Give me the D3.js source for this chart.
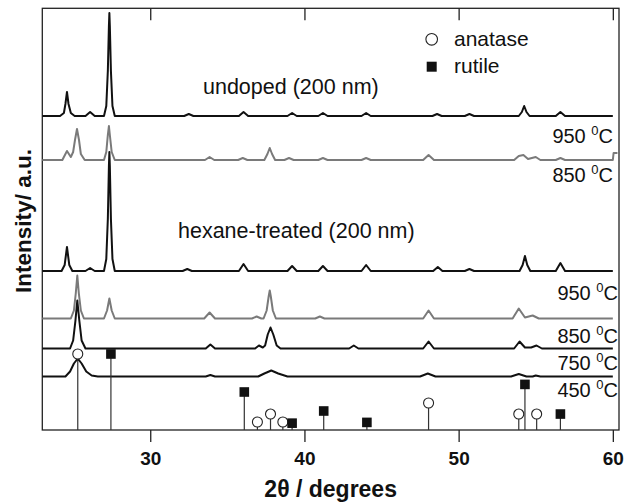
<!DOCTYPE html>
<html><head><meta charset="utf-8">
<script src="https://cdn.jsdelivr.net/npm/d3@7"></script>
<style>body{margin:0;background:#fff}svg{display:block}</style>
</head><body>
<svg id="chart" width="624" height="503"></svg>
<script>
// ---------- DATA ----------
// x: 2-theta (degrees); intensities in arbitrary units, relative to each pattern's own baseline
const seriesNames = ["undoped 950", "undoped 850", "hexane 950", "hexane 850", "hexane 750", "hexane 450"];
// vertical stacking offsets of each pattern (a.u.)
const seriesOffsets = [314, 270, 159, 111.5, 81.5, 53.5];

const undoped950 = [[23,0],[24.15,0],[24.4,3],[24.5,12],[24.6,24],[24.7,12],[24.85,3],[25.1,0],[25.8,0],[26.1,4],[26.4,0],[27.0,0],[27.15,10],[27.25,45],[27.32,90],[27.35,103],[27.38,90],[27.45,45],[27.55,10],[27.7,0],[32.2,0],[32.5,2],[32.8,0],[35.75,0],[36.05,4],[36.35,0],[38.9,0],[39.2,3],[39.5,0],[40.9,0],[41.2,3],[41.5,0],[43.7,0],[44.0,3],[44.3,0],[48.3,0],[48.6,2],[48.9,0],[50.4,0],[50.7,2],[51.0,0],[53.9,0],[54.1,4],[54.25,10],[54.4,4],[54.6,0],[56.3,0],[56.6,4],[56.9,0],[60,0]];
const undoped850 = [[23,0],[24.3,0],[24.6,9],[24.85,3],[25.0,8],[25.12,20],[25.25,31],[25.38,20],[25.5,6],[25.75,0],[27.0,0],[27.15,8],[27.25,25],[27.32,34],[27.38,25],[27.5,8],[27.7,0],[33.55,0],[33.85,3],[34.15,0],[35.7,0],[36.0,2],[36.3,0],[37.4,0],[37.6,6],[37.75,12],[37.9,6],[38.1,0],[38.7,0],[39.0,2],[39.3,0],[40.9,0],[41.2,2],[41.5,0],[43.7,0],[44.0,2],[44.3,0],[47.7,0],[48.05,5],[48.4,0],[53.6,0],[53.9,4],[54.2,5],[54.5,1],[55.0,3],[55.3,0],[56.3,0],[56.6,2],[56.9,0],[60.0,0],[60.05,7],[60.3,7]];
const hexane950 = [[23,0],[24.25,0],[24.45,6],[24.6,24],[24.75,6],[24.95,0],[25.8,0],[26.1,3],[26.4,0],[27.0,0],[27.15,12],[27.25,52],[27.32,105],[27.35,119],[27.38,105],[27.45,52],[27.55,12],[27.7,0],[32.1,0],[32.4,2],[32.7,0],[35.75,0],[36.05,7],[36.35,0],[38.9,0],[39.2,5],[39.5,0],[40.9,0],[41.2,5],[41.5,0],[43.7,0],[44.0,6],[44.3,0],[48.35,0],[48.65,4],[48.95,0],[50.4,0],[50.7,2],[51.0,0],[53.95,0],[54.15,6],[54.3,15],[54.45,6],[54.65,0],[56.3,0],[56.6,8],[56.9,0],[60,0]];
const hexane850 = [[23,0],[24.85,0],[25.05,8],[25.17,25],[25.27,43],[25.37,25],[25.5,8],[25.7,0],[27.0,0],[27.2,8],[27.35,20],[27.5,8],[27.7,0],[33.5,0],[33.85,6],[34.2,0],[36.6,0],[36.9,2],[37.2,0],[37.35,0],[37.55,8],[37.68,22],[37.75,28],[37.82,22],[37.95,8],[38.15,0],[40.7,0],[41.0,2],[41.3,0],[47.7,0],[48.05,8],[48.4,0],[53.5,0],[53.9,10],[54.3,1],[54.8,3],[55.2,0],[60,0]];
const hexane750 = [[23,0],[24.8,0],[25.0,8],[25.15,28],[25.27,48],[25.4,28],[25.55,8],[25.8,0],[33.6,0],[33.9,4],[34.2,0],[36.8,0],[37.05,3],[37.3,1],[37.45,3],[37.62,14],[37.8,21],[37.98,14],[38.2,3],[38.45,0],[42.9,0],[43.2,3],[43.5,0],[47.7,0],[48.05,7],[48.4,0],[53.6,0],[53.95,7],[54.3,1],[54.7,1],[55.05,3],[55.4,0],[60,0]];
const hexane450 = [[23,0],[24.5,0],[24.8,5],[25.05,13],[25.3,18],[25.55,13],[25.85,5],[26.2,1],[26.6,0],[33.6,0],[33.9,1.5],[34.2,0],[37.0,0],[37.4,3],[37.85,6],[38.3,3],[38.9,0],[47.5,0],[48.0,3],[48.5,0],[53.4,0],[53.9,2.5],[54.4,0],[54.8,0],[55.0,1],[55.3,0],[60,0]];
const seriesData = [undoped950, undoped850, hexane950, hexane850, hexane750, hexane450];

// reference patterns: [2theta, relative intensity %]
const anataseRefs = [[25.3,100],[36.95,10.5],[37.8,21],[38.6,10.5],[48.05,35.5],[53.9,21],[55.06,21]];
const rutileRefs  = [[27.45,100],[36.1,50],[39.2,9],[41.25,25],[44.05,10],[54.3,60],[56.6,21]];

const xMajorTicks = [30, 40, 50, 60];
const sampleLabels = ["undoped (200 nm)", "hexane-treated (200 nm)"];
const tempLabels = ["950", "850", "950", "850", "750", "450"];
const legendLabels = ["anatase", "rutile"];
const xTitle = "2\u03B8 / degrees";
const yTitle = "Intensity/ a.u.";

// ---------- STYLE / LAYOUT ----------
const FONT = "'Liberation Sans', Arial, Helvetica, sans-serif";
const seriesColors = ["#111", "#7a7a7a", "#111", "#7a7a7a", "#111", "#111"];
const frame = {left: 42.3, right: 619, top: 8.3, bottom: 430};

const svg = d3.select("#chart");
const x = d3.scaleLinear().domain([23, 60.4]).range([frame.left, frame.right]);
const y = d3.scaleLinear().domain([0, 421.7]).range([frame.bottom, frame.top]);
const yRef = d3.scaleLinear().domain([0, 100]).range([frame.bottom, 354]);

const minorTicks = d3.range(0, 23).map(i => 23 + 1/3 + i * 10 / 6);

// frame
svg.append("rect").attr("x", frame.left).attr("y", frame.top)
  .attr("width", frame.right - frame.left).attr("height", frame.bottom - frame.top)
  .attr("fill", "none").attr("stroke", "#222").attr("stroke-width", 1.3);

// bottom axis (outward ticks)
const gB = svg.append("g").attr("transform", `translate(0,${frame.bottom})`);
gB.call(d3.axisBottom(x).tickValues(minorTicks).tickSize(7).tickFormat(""));
gB.call(d3.axisBottom(x).tickValues(xMajorTicks).tickSize(12).tickPadding(10).tickFormat(d3.format("d")));
gB.selectAll(".domain").remove();
gB.selectAll("line").attr("stroke", "#222").attr("stroke-width", 1.3);
gB.selectAll("text").attr("font-family", FONT).attr("font-size", 19).attr("font-weight", "bold").attr("fill", "#111");

// top axis (inward ticks)
const gT = svg.append("g").attr("transform", `translate(0,${frame.top})`);
gT.call(d3.axisBottom(x).tickValues(minorTicks).tickSize(7).tickFormat(""));
gT.call(d3.axisBottom(x).tickValues(xMajorTicks).tickSize(12).tickFormat(""));
gT.selectAll(".domain").remove();
gT.selectAll("line").attr("stroke", "#222").attr("stroke-width", 1.3);

// patterns
const line = d3.line().x(d => x(d[0])).y(d => y(d[1]));
seriesData.forEach((s, i) => {
  const off = seriesOffsets[i];
  svg.append("path")
    .datum(s.map(d => [d[0], d[1] + off]))
    .attr("d", line)
    .attr("fill", "none")
    .attr("stroke", seriesColors[i])
    .attr("stroke-width", 2)
    .attr("stroke-linejoin", "round");
});

// reference sticks
const gR = svg.append("g");
[...anataseRefs, ...rutileRefs].forEach(d => {
  gR.append("line").attr("x1", x(d[0])).attr("x2", x(d[0]))
    .attr("y1", yRef(0)).attr("y2", yRef(d[1]))
    .attr("stroke", "#333").attr("stroke-width", 1.2);
});
anataseRefs.forEach(d => {
  gR.append("circle").attr("cx", x(d[0])).attr("cy", yRef(d[1])).attr("r", 5)
    .attr("fill", "#fff").attr("stroke", "#222").attr("stroke-width", 1.1);
});
rutileRefs.forEach(d => {
  gR.append("rect").attr("x", x(d[0]) - 4.8).attr("y", yRef(d[1]) - 4.8)
    .attr("width", 9.6).attr("height", 9.6).attr("fill", "#111");
});

// legend
svg.append("circle").attr("cx", 431.7).attr("cy", 39.3).attr("r", 5.8)
  .attr("fill", "#fff").attr("stroke", "#222").attr("stroke-width", 1.1);
svg.append("rect").attr("x", 426.7).attr("y", 61.7).attr("width", 10).attr("height", 10).attr("fill", "#111");
svg.append("text").attr("x", 454).attr("y", 45.7).text(legendLabels[0])
  .attr("font-family", FONT).attr("font-size", 21).attr("fill", "#111");
svg.append("text").attr("x", 454).attr("y", 72.7).text(legendLabels[1])
  .attr("font-family", FONT).attr("font-size", 21).attr("fill", "#111");

// sample labels
svg.append("text").attr("x", 203).attr("y", 94).text(sampleLabels[0])
  .attr("font-family", FONT).attr("font-size", 21.5).attr("fill", "#111");
svg.append("text").attr("x", 178).attr("y", 238).text(sampleLabels[1])
  .attr("font-family", FONT).attr("font-size", 21.5).attr("fill", "#111");

// temperature labels
const tempPos = [[613, 143.3], [613, 181.7], [618, 300], [618, 342.7], [618, 370], [618, 396.7]];
tempLabels.forEach((t, i) => {
  const tx = svg.append("text").attr("x", tempPos[i][0]).attr("y", tempPos[i][1])
    .attr("text-anchor", "end").attr("font-family", FONT).attr("font-size", 20).attr("fill", "#111");
  tx.append("tspan").text(t + " ");
  tx.append("tspan").attr("font-size", 13).attr("dy", -8).text("0");
  tx.append("tspan").attr("dy", 8).text("C");
});

// axis titles
svg.append("text").attr("x", (frame.left + frame.right) / 2).attr("y", 497)
  .attr("text-anchor", "middle").attr("font-family", FONT).attr("font-size", 23)
  .attr("font-weight", "bold").attr("fill", "#111").text(xTitle);
svg.append("text").attr("transform", "translate(31,221) rotate(-90)")
  .attr("text-anchor", "middle").attr("font-family", FONT).attr("font-size", 22.5)
  .attr("font-weight", "bold").attr("fill", "#111").text(yTitle);
</script>
</body></html>
